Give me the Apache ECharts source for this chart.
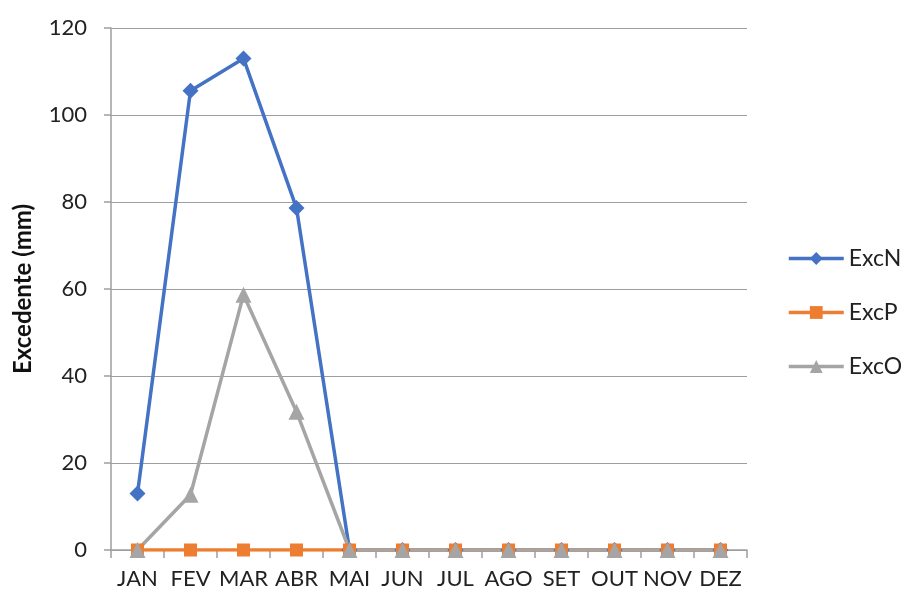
<!DOCTYPE html>
<html><head><meta charset="utf-8">
<script src="https://cdn.jsdelivr.net/npm/echarts@6/dist/echarts.min.js"></script>
<style>html,body{margin:0;padding:0;background:#fff}#c{width:901px;height:602px}</style>
</head><body><div id="c"></div>
<script>
const months = ['JAN','FEV','MAR','ABR','MAI','JUN','JUL','AGO','SET','OUT','NOV','DEZ'];
const excN = [13, 105.6, 113, 78.6, 0, 0, 0, 0, 0, 0, 0, 0];
const excP = [0, 0, 0, 0, 0, 0, 0, 0, 0, 0, 0, 0];
const excO = [0, 12.7, 58.7, 31.8, 0, 0, 0, 0, 0, 0, 0, 0];
const yTicks = [0, 20, 40, 60, 80, 100, 120];

const font = 'Lato';
const chart = echarts.init(document.getElementById('c'), null, {renderer:'canvas'});
function ser(name, data, color, symbol, size){
  return {name, type:'line', data, color, symbol, symbolSize:size,
    lineStyle:{width:3.5, color}, itemStyle:{color}, showSymbol:true, animation:false};
}
chart.setOption({
  animation:false,
  textStyle:{fontFamily:font},
  grid:{left:111, right:154, top:28, bottom:52, containLabel:false, outerBoundsMode:'none'},
  legend:{orient:'vertical', left:787, top:247, padding:0, itemGap:31, itemWidth:55, itemHeight:16,
    lineStyle:{width:3.5},
    textStyle:{fontSize:23, color:'#222', fontFamily:font, padding:0},
    data:['ExcN','ExcP','ExcO']},
  xAxis:{type:'category', data:months, boundaryGap:true,
    axisLine:{lineStyle:{color:'#9e9e9e', width:1.5}},
    axisTick:{show:true, inside:false, length:8, lineStyle:{color:'#9e9e9e', width:1.5}},
    axisLabel:{fontSize:22, color:'#222', margin:18, fontFamily:font, interval:0}},
  yAxis:{type:'value', min:yTicks[0], max:yTicks[yTicks.length-1], interval:20,
    name:'Excedente (mm)', nameLocation:'middle', nameGap:76,
    nameTextStyle:{fontSize:24, fontWeight:'bold', color:'#111', fontFamily:font},
    axisLine:{show:true, lineStyle:{color:'#9e9e9e', width:1.5}},
    axisTick:{show:true, length:7, lineStyle:{color:'#9e9e9e', width:1.5}},
    axisLabel:{fontSize:22, color:'#222', margin:24, fontFamily:font},
    splitLine:{lineStyle:{color:'#9e9e9e', width:1.2}}},
  series:[
    ser('ExcN', excN, '#4472C4', 'diamond', 16),
    ser('ExcP', excP, '#ED7D31', 'rect', 13),
    ser('ExcO', excO, '#A5A5A5', 'triangle', 16)
  ]
});
</script></body></html>
